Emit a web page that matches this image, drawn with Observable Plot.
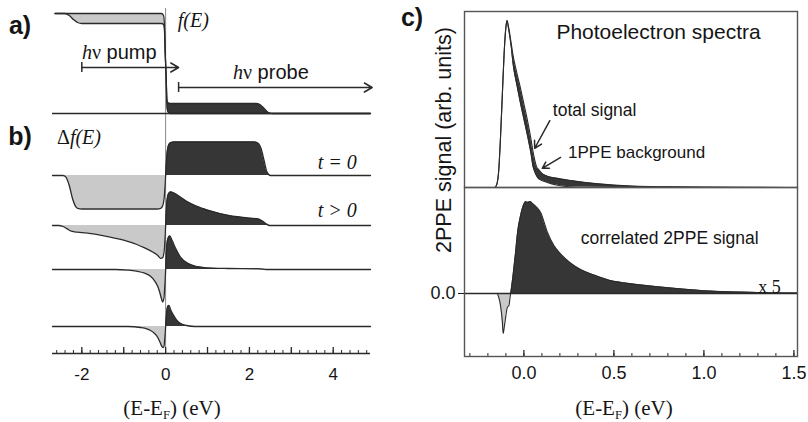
<!DOCTYPE html>
<html><head><meta charset="utf-8">
<script src="https://cdn.jsdelivr.net/npm/d3@7"></script>
<script src="https://cdn.jsdelivr.net/npm/@observablehq/plot@0.6"></script>
<style>
html,body{margin:0;padding:0;background:#fff;}
#root{position:relative;width:808px;height:422px;overflow:hidden;background:#fff;color:#151515;}
#root > *{position:absolute;}
.c{transform:translate(-50%,-50%);white-space:nowrap;line-height:1;}
.l{transform:translate(0,-50%);white-space:nowrap;line-height:1;}
.lbl{font-family:"Liberation Sans",Arial,sans-serif;font-weight:bold;font-size:25px;}
.serif{font-family:"Liberation Serif","Times New Roman",serif;}
.sans{font-family:"Liberation Sans",Arial,sans-serif;}
sub{font-size:0.6em;vertical-align:-0.3em;}
</style></head><body><div id="root"></div>
<script>
// ---------- Panel a: distribution f(E) ----------
const aE  = [-2.64, -2.4, -2.3, -2.2, -2.1, -2.0, -0.1, -0.05, -0.03, -0.01, 0, 0.01, 0.03, 0.05, 0.1, 2.15, 2.25, 2.35, 2.45, 2.55, 4.89];
const aF  = [1, 1, 1, 1, 1, 1, 1, 0.98, 0.9, 0.6, 0.5, 0.4, 0.1, 0.02, 0, 0, 0, 0, 0, 0, 0];
const aFp = [1, 1, 0.98, 0.94, 0.91, 0.9, 0.9, 0.89, 0.85, 0.6, 0.5, 0.4, 0.15, 0.11, 0.1, 0.1, 0.09, 0.05, 0.01, 0, 0];

// ---------- Panel b: delta f(E), four delays ----------
const b1E = [-2.70, -2.45, -2.38, -2.3, -2.22, -2.15, -2.08, -2.0, -0.2, -0.12, -0.07, -0.03, 0, 0.03, 0.07, 0.12, 0.2, 2.1, 2.2, 2.28, 2.35, 2.42, 2.5, 4.89];
const b1V = [0, 0, -0.05, -0.3, -0.7, -0.92, -0.99, -1, -1, -0.98, -0.9, -0.6, 0, 0.6, 0.9, 0.98, 1, 1, 0.97, 0.8, 0.45, 0.1, 0, 0];
const b2E = [-2.70, -2.55, -2.45, -2.35, -2.25, -2.1, -1.9, -1.5, -1.0, -0.7, -0.5, -0.3, -0.2, -0.12, -0.07, -0.03, 0, 0.03, 0.07, 0.12, 0.2, 0.35, 0.5, 0.75, 1.0, 1.5, 2.0, 2.2, 2.3, 2.4, 2.48, 4.89];
const b2V = [0, 0, -0.03, -0.1, -0.17, -0.2, -0.22, -0.3, -0.44, -0.56, -0.67, -0.8, -0.88, -0.98, -0.96, -0.7, 0, 0.7, 0.95, 1.0, 0.97, 0.85, 0.72, 0.57, 0.46, 0.3, 0.22, 0.2, 0.14, 0.05, 0, 0];
const b3E = [-2.70, -1.2, -0.9, -0.7, -0.5, -0.36, -0.25, -0.19, -0.14, -0.1, -0.07, -0.04, -0.02, 0, 0.02, 0.05, 0.1, 0.15, 0.25, 0.36, 0.52, 0.7, 0.84, 1.1, 1.5, 2.2, 2.4, 4.89];
const b3V = [0, 0, -0.02, -0.05, -0.11, -0.2, -0.36, -0.5, -0.68, -0.87, -0.97, -0.85, -0.5, 0, 0.55, 0.9, 1.0, 0.88, 0.6, 0.36, 0.19, 0.1, 0.07, 0.04, 0.03, 0.02, 0, 0];
const b4E = [-2.70, -0.9, -0.6, -0.45, -0.36, -0.27, -0.19, -0.13, -0.1, -0.06, -0.04, -0.02, 0, 0.02, 0.05, 0.08, 0.12, 0.19, 0.27, 0.36, 0.5, 0.7, 4.89];
const b4V = [0, 0, -0.03, -0.07, -0.12, -0.2, -0.32, -0.48, -0.57, -0.63, -0.6, -0.35, 0, 0.35, 0.6, 0.63, 0.5, 0.33, 0.18, 0.09, 0.03, 0, 0];
const bLabels = ["t = 0", "t > 0"];

// ---------- Panel c: photoelectron spectra ----------
const cE     = [-0.16, -0.15, -0.14, -0.13, -0.12, -0.11, -0.10, -0.094, -0.085, -0.07, -0.06, -0.04, -0.02, 0, 0.02, 0.04, 0.05, 0.06, 0.07, 0.08, 0.1, 0.13, 0.18, 0.26, 0.4, 0.6, 0.8, 1.0, 1.52];
const cTotal = [0, 0.02, 0.1, 0.3, 0.55, 0.8, 0.96, 1.0, 0.96, 0.86, 0.79, 0.69, 0.6, 0.5, 0.4, 0.285, 0.22, 0.165, 0.125, 0.11, 0.085, 0.068, 0.056, 0.042, 0.023, 0.008, 0.004, 0.002, 0];
const cBkg   = [0, 0.02, 0.1, 0.3, 0.55, 0.8, 0.96, 1.0, 0.95, 0.84, 0.74, 0.62, 0.51, 0.41, 0.31, 0.2, 0.13, 0.095, 0.07, 0.055, 0.042, 0.03, 0.015, 0.004, 0.001, 0, 0, 0, 0];
const dE     = [-0.33, -0.15, -0.14, -0.13, -0.12, -0.115, -0.108, -0.1, -0.092, -0.083, -0.078, -0.074, -0.065, -0.056, -0.046, -0.037, -0.018, 0, 0.01, 0.02, 0.035, 0.047, 0.07, 0.093, 0.13, 0.167, 0.204, 0.26, 0.315, 0.39, 0.48, 0.575, 0.76, 1.0, 1.2, 1.35, 1.52];
const dCorr  = [0, 0, -0.04, -0.13, -0.3, -0.435, -0.35, -0.24, -0.15, -0.13, -0.06, 0, 0.12, 0.27, 0.45, 0.63, 0.85, 0.97, 1.0, 0.99, 1.0, 0.98, 0.94, 0.88, 0.67, 0.52, 0.43, 0.33, 0.26, 0.2, 0.14, 0.11, 0.07, 0.03, 0.015, 0.008, 0.004];

const leftTicks  = [-2, 0, 2, 4];
const rightTicks = [0, 0.5, 1.0, 1.5];

// ---------- styles / layout ----------
const light = "#c9c9c9", dark = "#363636", ink = "#2a2a2a", txt = "#151515";
const curve = "monotone-x";
const root = document.getElementById("root");
const serif = "Liberation Serif", sans = "Liberation Sans";

// ---------- left chart (a + b) ----------
const AXH = 353;                 // plot area height (axis at bottom)
const A_BASE = 240, A_AMP = 100; // panel a offset and scale
const B_AMP = 33.5;
const traces = [
  {E: b1E, v: b1V, base: 178},
  {E: b2E, v: b2V, base: 128},
  {E: b3E, v: b3V, base: 84},
  {E: b4E, v: b4V, base: 27}
];
const rowsA = aE.map((E, i) => ({E, f: aF[i], fp: aFp[i]}));
const L = [];
L.push(Plot.ruleX([0], {y1: 0, y2: 345, stroke: "#888", strokeWidth: 1}));
L.push(Plot.areaY(rowsA.filter(d => d.E <= 0), {x: "E", y1: d => A_BASE + A_AMP * d.f, y2: d => A_BASE + A_AMP * d.fp, fill: light, curve}));
L.push(Plot.areaY(rowsA.filter(d => d.E >= 0), {x: "E", y1: d => A_BASE + A_AMP * d.f, y2: d => A_BASE + A_AMP * d.fp, fill: dark, curve}));
L.push(Plot.ruleY([A_BASE], {stroke: ink, strokeWidth: 1.3}));
L.push(Plot.lineY(rowsA, {x: "E", y: d => A_BASE + A_AMP * d.fp, stroke: ink, strokeWidth: 1.3, curve}));
L.push(Plot.lineY(rowsA, {x: "E", y: d => A_BASE + A_AMP * d.f, stroke: ink, strokeWidth: 1.3, curve}));
for (const t of traces) {
  const rows = t.E.map((E, i) => ({E, v: t.v[i]}));
  L.push(Plot.areaY(rows, {x: "E", y1: t.base, y2: d => t.base + B_AMP * Math.min(0, d.v), fill: light, curve}));
  L.push(Plot.areaY(rows, {x: "E", y1: t.base, y2: d => t.base + B_AMP * Math.max(0, d.v), fill: dark, curve}));
  L.push(Plot.lineY(rows, {x: "E", y: d => t.base + B_AMP * d.v, stroke: ink, strokeWidth: 1.3, curve}));
}
// axis with inward ticks
L.push(Plot.tickX(d3.range(-13, 25).map(i => i / 5), {x: d => d, insetTop: AXH - 3, stroke: ink}));
L.push(Plot.tickX(d3.range(-2, 5), {x: d => d, insetTop: AXH - 6, stroke: ink, strokeWidth: 1.3}));
L.push(Plot.ruleY([0], {stroke: ink, strokeWidth: 1.6}));
// arrows
L.push(Plot.arrow([{x1: -2, x2: 0.31, y: 286}], {x1: "x1", x2: "x2", y1: "y", y2: "y", stroke: ink, strokeWidth: 1.5, headLength: 9}));
L.push(Plot.arrow([{x1: 0.31, x2: 4.93, y: 266}], {x1: "x1", x2: "x2", y1: "y", y2: "y", stroke: ink, strokeWidth: 1.5, headLength: 9}));
L.push(Plot.ruleX([{x: -2, y: 286}, {x: 0.31, y: 266}], {x: "x", y1: d => d.y - 5, y2: d => d.y + 5, stroke: ink, strokeWidth: 1.5}));
// labels
L.push(Plot.text(["f(E)"], {x: 0.29, y: 333, text: d => d, textAnchor: "start", fontFamily: serif, fontStyle: "italic", fontSize: 20, fill: txt}));
L.push(Plot.text(bLabels, {x: 3.63, y: (d, i) => [191, 143][i], text: d => d, textAnchor: "start", fontFamily: serif, fontStyle: "italic", fontSize: 20, fill: txt}));

const left = Plot.plot({
  width: 400, height: 390, marginLeft: 52, marginRight: 30, marginTop: 0, marginBottom: 37,
  x: {domain: [-2.70, 4.89], ticks: leftTicks, tickSize: 0, tickPadding: 14, label: null,
      tickFormat: d => (d < 0 ? "-" + Math.abs(d) : String(d))},
  y: {domain: [0, AXH], axis: null},
  style: {fontFamily: sans, fontSize: "17px", color: txt, background: "transparent", overflow: "visible"},
  marks: L
});
left.style.left = "0px"; left.style.top = "0px";
root.appendChild(left);

// ---------- right chart upper (total + 1PPE) ----------
const rowsC = cE.map((E, i) => ({E, T: cTotal[i], B: cBkg[i]}));
const upper = Plot.plot({
  width: 335, height: 178, marginLeft: 1, marginRight: 1, marginTop: 1, marginBottom: 1,
  x: {domain: [-0.33, 1.52], axis: null},
  y: {domain: [0, 1.054], axis: null},
  style: {fontFamily: sans, fontSize: "17px", color: txt, background: "transparent", overflow: "visible"},
  marks: [
    Plot.areaY(rowsC, {x: "E", y1: "B", y2: "T", fill: dark, curve}),
    Plot.lineY(rowsC, {x: "E", y: "T", stroke: ink, strokeWidth: 1.1, curve}),
    Plot.lineY(rowsC, {x: "E", y: "B", stroke: ink, strokeWidth: 1.1, curve}),
    Plot.frame({stroke: "#555", strokeWidth: 1.4}),
    Plot.text(["Photoelectron spectra"], {x: 0.748, y: 0.928, text: d => d, fontSize: 21, fill: txt}),
    Plot.text(["total signal"], {x: 0.393, y: 0.461, text: d => d, fontSize: 17.5, fill: txt}),
    Plot.text(["1PPE background"], {x: 0.626, y: 0.21, text: d => d, fontSize: 17, fill: txt}),
    Plot.arrow([{x1: 0.144, y1: 0.40, x2: 0.06, y2: 0.235}, {x1: 0.204, y1: 0.18, x2: 0.102, y2: 0.115}],
      {x1: "x1", y1: "y1", x2: "x2", y2: "y2", stroke: ink, strokeWidth: 1.5, headLength: 8})
  ]
});
upper.style.left = "463px"; upper.style.top = "10px";
root.appendChild(upper);

// ---------- right chart lower (correlated signal) ----------
const rowsD = dE.map((E, i) => ({E, v: dCorr[i]}));
const LH = 169;
const lower = Plot.plot({
  width: 375, height: 230, marginLeft: 41, marginRight: 1, marginTop: 1, marginBottom: 60,
  x: {domain: [-0.33, 1.52], ticks: rightTicks, tickSize: 0, tickPadding: 10, tickFormat: d3.format(".1f"), label: null},
  y: {domain: [-0.685, 1.152], ticks: [0], tickSize: 6, tickPadding: 3, tickFormat: () => "0.0", label: null},
  style: {fontFamily: sans, fontSize: "18px", color: txt, background: "transparent", overflow: "visible"},
  marks: [
    Plot.areaY(rowsD, {x: "E", y1: 0, y2: d => Math.min(0, d.v), fill: light, curve}),
    Plot.areaY(rowsD, {x: "E", y1: 0, y2: d => Math.max(0, d.v), fill: dark, curve}),
    Plot.ruleY([0], {stroke: ink, strokeWidth: 1.3}),
    Plot.lineY(rowsD, {x: "E", y: "v", stroke: ink, strokeWidth: 1.1, curve}),
    Plot.tickX(d3.range(-3, 16).map(i => i / 10), {x: d => d, insetTop: LH - 3, stroke: ink}),
    Plot.tickX(rightTicks, {x: d => d, insetTop: LH - 6, stroke: ink, strokeWidth: 1.3}),
    Plot.frame({stroke: "#555", strokeWidth: 1.4}),
    Plot.text(["correlated 2PPE signal"], {x: 0.81, y: 0.598, text: d => d, fontSize: 17.5, fill: txt}),
    Plot.text(["x 5"], {x: 1.364, y: 0.065, text: d => d, fontFamily: serif, fontSize: 18, fill: txt})
  ]
});
lower.style.left = "423px"; lower.style.top = "186px";
root.appendChild(lower);

// ---------- HTML labels ----------
function addText(html, cls, x, y, style) {
  const d = document.createElement("div");
  d.className = cls; d.innerHTML = html;
  d.style.left = x + "px"; d.style.top = y + "px";
  Object.assign(d.style, style || {});
  root.appendChild(d);
}
addText("a)", "lbl c", 20, 25);
addText("b)", "lbl c", 20, 136);
addText("c)", "lbl c", 412, 17);
addText('<span class="serif" style="font-style:italic">h</span><span class="serif">ν</span> pump', "sans l", 82, 52, {fontSize: "20px"});
addText('<span class="serif" style="font-style:italic">h</span><span class="serif">ν</span> probe', "sans l", 233, 72, {fontSize: "20px"});
addText('Δ<i>f(E)</i>', "serif l", 57, 137, {fontSize: "20px"});
addText('(E-E<sub>F</sub>) (eV)', "serif c", 172, 410, {fontSize: "21px"});
addText('(E-E<sub>F</sub>) (eV)', "serif c", 624, 410, {fontSize: "21px"});
addText('2PPE signal (arb. units)', "sans", 445, 140, {fontSize: "21.5px", transform: "translate(-50%,-50%) rotate(-90deg)", whiteSpace: "nowrap", lineHeight: "1"});
</script></body></html>
